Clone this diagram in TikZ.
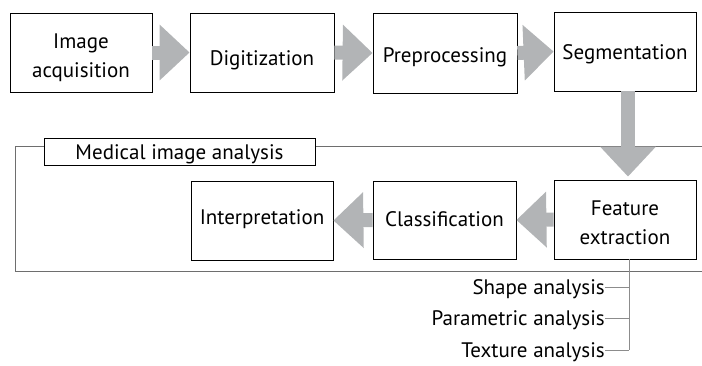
\documentclass[tikz,border=0pt]{standalone}
\usepackage{fontspec}
\setmainfont{PT Sans}
\usetikzlibrary{arrows.meta,calc}
\definecolor{flowgray}{RGB}{178,180,182}
\definecolor{framegray}{RGB}{110,110,110}
\definecolor{tickgray}{RGB}{140,140,140}
\begin{document}
\begin{tikzpicture}[x=1pt,y=-1pt,
  stage/.style={draw=black,line width=0.8pt,fill=white,align=center,
    inner sep=0pt,font=\fontsize{21}{28.5}\selectfont},
  oneline/.style={stage,text height=#1,text depth=0pt},
  oneline/.default=19pt,
  twoline/.style={stage,text height=52pt,text depth=3pt},
  flow/.style={draw=flowgray,line width=14pt,
    -{Triangle[width=54pt,length=30pt]}},
  group/.style={draw=framegray,line width=1pt},
  feat/.style={inner xsep=0pt,inner ysep=0pt,anchor=east,
    text height=15pt,text depth=0pt,font=\fontsize{21}{24}\selectfont},
  branch/.style={draw=tickgray,line width=0.8pt}]
\useasboundingbox (0,0) rectangle (702,365);

% pipeline stages
\node[twoline,minimum width=142pt,minimum height=79pt] (acq) at (81,52.5) {Image\\acquisition};
\node[oneline=25pt,minimum width=144pt,minimum height=79pt] (dig) at (262,52.5) {Digitization};
\node[oneline=19pt,minimum width=144pt,minimum height=80pt] (pre) at (445,53) {Preprocessing};
\node[oneline=16pt,minimum width=142pt,minimum height=79pt] (seg) at (625,51.5) {Segmentation};

% analysis group frame, open to the right
\coordinate (ftl) at (15,146);
\coordinate (fbl) at (15,271);
\coordinate (ftr) at (702,146);
\coordinate (fbr) at (702,271);
\draw[group] (ftr) -- (ftl) -- (fbl) -- (fbr);
\node[stage,minimum width=271pt,minimum height=27pt,text height=15pt,text depth=0pt,
  font=\fontsize{21}{24}\selectfont] (mia) at (179.5,151.5) {Medical image analysis};

% analysis stages
\node[twoline,minimum width=142pt,minimum height=79pt] (fe) at (625,219.5) {Feature\\extraction};
\node[oneline=12pt,minimum width=143pt,minimum height=78pt] (cls) at (444.5,220) {Classification};
\node[oneline=8pt,minimum width=142pt,minimum height=79pt] (int) at (262,220.5) {Interpretation};

% flow arrows
\draw[flow] (acq.east) -- (dig.west);
\draw[flow] (dig.east) -- (pre.west);
\draw[flow] (pre.east) -- (seg.west);
\coordinate (down) at (628,0);
\draw[flow] (seg.south -| down) -- ($(fe.north -| down)+(0,-3)$);
\draw[flow] (fe.west) -- (cls.east);
\draw[flow] (cls.west) -- (int.east);

% feature analysis branches
\coordinate (trunk) at (629,350);
\node[feat] (shape) at (605,287) {Shape analysis};
\node[feat] (param) at (605,318) {Parametric analysis};
\node[feat] (tex) at (605,350) {Texture analysis};
\draw[branch] (fe.south -| trunk) -- (trunk);
\draw[branch] (shape.east) -- (shape.east -| trunk);
\draw[branch] (param.east) -- (param.east -| trunk);
\draw[branch] (tex.east) -- (tex.east -| trunk);
\end{tikzpicture}
\end{document}
